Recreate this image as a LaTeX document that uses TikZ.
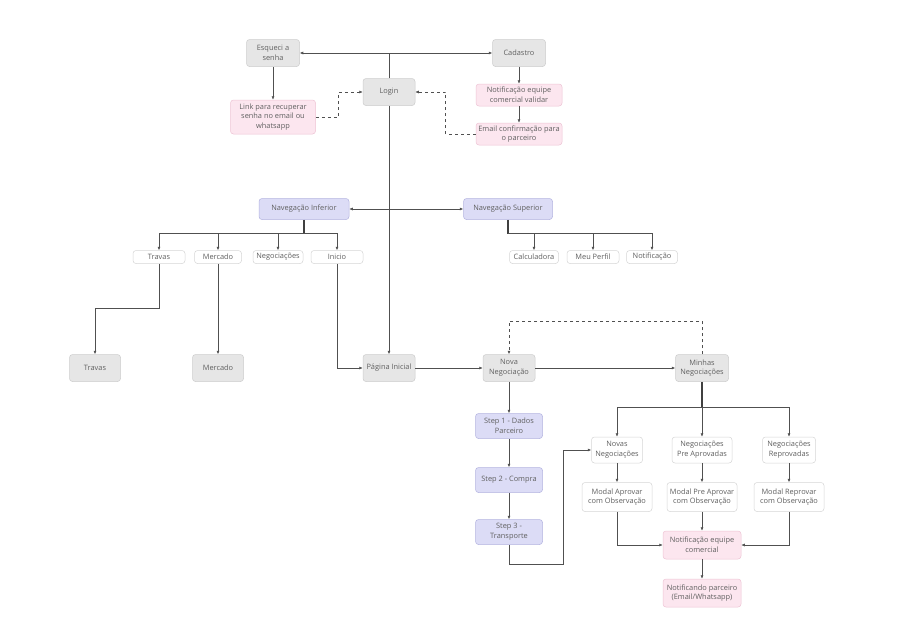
\documentclass[tikz,border=0pt]{standalone}
\usepackage{fontspec}
\setmainfont{Open Sans}
\usetikzlibrary{arrows.meta}

\definecolor{grayfill}{HTML}{E6E6E6}
\definecolor{grayline}{HTML}{CDCDCD}
\definecolor{pinkfill}{HTML}{FCE6EF}
\definecolor{pinkline}{HTML}{EEC4D5}
\definecolor{bluefill}{HTML}{DCDCF6}
\definecolor{blueline}{HTML}{B4B4E0}
\definecolor{plainline}{HTML}{D6D6D6}
\definecolor{txt}{HTML}{606060}
\definecolor{wire}{HTML}{505050}

\begin{document}
\begin{tikzpicture}[x=1pt,y=-1pt,
    bx/.style={rounded corners=3pt,align=center,inner sep=1pt,text=txt,line width=0.5pt,
        font=\fontsize{7.4}{9.8}\selectfont},
    greybox/.style={bx,draw=grayline,fill=grayfill,minimum width=53pt,minimum height=27pt},
    pinkbox/.style={bx,draw=pinkline,fill=pinkfill,minimum width=86pt,minimum height=22pt},
    bluebox/.style={bx,draw=blueline,fill=bluefill,minimum width=67pt,minimum height=25pt},
    plainbox/.style={bx,draw=plainline,fill=white,minimum height=13pt},
    arr/.style={draw=wire,line width=0.6pt,-{Latex[length=3.5pt,width=3pt]}},
    arrboth/.style={draw=wire,line width=0.6pt,{Latex[length=3.5pt,width=3pt]}-{Latex[length=3.5pt,width=3pt]}},
    dashlink/.style={arr,dashed},
    trunk/.style={draw=black!75,line width=1.2pt}]
    \path[use as bounding box,fill=white] (0,0) rectangle (901,643);

    \node[greybox] (esq) at (273,53) {Esqueci a\\senha};
    \node[greybox] (cad) at (519,53) {Cadastro};
    \node[greybox,minimum width=52pt] (login) at (389,92) {Login};
    \node[pinkbox,minimum width=85pt,minimum height=34pt] (link) at (273,117) {Link para recuperar\\senha no email ou\\whatsapp};
    \node[pinkbox] (notv) at (519,95) {Notificação equipe\\comercial validar};
    \node[pinkbox] (mail) at (519,134) {Email confirmação para\\o parceiro};

    \node[bluebox,minimum width=90pt,minimum height=21pt] (navi) at (304,209) {Navegação Inferior};
    \node[bluebox,minimum width=89pt,minimum height=21pt] (navs) at (508,209) {Navegação Superior};

    \node[plainbox,minimum width=52pt] (trv) at (159,257) {Travas};
    \node[plainbox,minimum width=47pt] (mer) at (218,257) {Mercado};
    \node[plainbox,minimum width=50pt] (neg) at (278,257) {Negociações};
    \node[plainbox,minimum width=52pt] (ini) at (337,257) {Inicio};
    \node[plainbox,minimum width=49pt] (calc) at (534,257) {Calculadora};
    \node[plainbox,minimum width=52pt] (perf) at (593,257) {Meu Perfil};
    \node[plainbox,minimum width=51pt] (notif) at (652,257) {Notificação};

    \node[greybox,minimum width=51pt] (trvb) at (95,368) {Travas};
    \node[greybox,minimum width=51pt] (merb) at (218,368) {Mercado};
    \node[greybox,minimum width=52pt] (pag) at (389,368) {Página Inicial};
    \node[greybox,minimum width=52pt] (nova) at (509,368) {Nova\\Negociação};
    \node[greybox,minimum width=53pt] (minhas) at (702,368) {Minhas\\Negociações};

    \node[bluebox] (s1) at (509,426) {Step 1 - Dados\\Parceiro};
    \node[bluebox] (s2) at (509,480) {Step 2 - Compra};
    \node[bluebox] (s3) at (509,532) {Step 3 -\\Transporte};

    \node[plainbox,minimum width=51pt,minimum height=26pt] (nov) at (617,450) {Novas\\Negociações};
    \node[plainbox,minimum width=60pt,minimum height=26pt] (pre) at (702,450) {Negociações\\Pre Aprovadas};
    \node[plainbox,minimum width=53pt,minimum height=26pt] (rep) at (789,450) {Negociações\\Reprovadas};
    \node[plainbox,minimum width=70pt,minimum height=29pt] (mapr) at (617,497) {Modal Aprovar\\com Observação};
    \node[plainbox,minimum width=70pt,minimum height=29pt] (mpre) at (702,497) {Modal Pre Aprovar\\com Observação};
    \node[plainbox,minimum width=70pt,minimum height=29pt] (mrep) at (789,497) {Modal Reprovar\\com Observação};
    \node[pinkbox,minimum width=78pt,minimum height=28pt] (neq) at (702,545) {Notificação equipe\\comercial};
    \node[pinkbox,minimum width=78pt,minimum height=28pt] (npar) at (702,593) {Notificando parceiro\\(Email/Whatsapp)};

    \coordinate (top) at (389,53);
    \draw[wire,line width=0.6pt] (login) -- (top);
    \draw[arr] (top) -- (esq);
    \draw[arr] (top) -- (cad);
    \draw[arr] (esq) -- (link);
    \draw[dashlink] (link.east) -- ++(23,0) |- (login.west);
    \draw[arr] (cad) -- (notv);
    \draw[arr] (notv) -- (mail);
    \draw[dashlink] (mail.west) -- ++(-30,0) |- (login.east);
    \draw[arr] (login) -- (pag);
    \draw[arrboth] (navi) -- (navs);

    \draw[trunk] (navi.south) -- ++(0,14) coordinate (bi);
    \foreach \n in {trv,mer,neg,ini}
        \draw[arr] (bi) -| (\n.north);
    \draw[trunk] (navs.south) -- ++(0,14) coordinate (bs);
    \foreach \n in {calc,perf,notif}
        \draw[arr] (bs) -| (\n.north);

    \draw[arr] (trv.south) -- ++(0,45) -| (trvb.north);
    \draw[arr] (mer) -- (merb);
    \draw[arr] (ini.south) |- (pag.west);
    \draw[arr] (pag) -- (nova);
    \draw[arr] (nova) -- (minhas);
    \draw[dashlink] (minhas.north) -- ++(0,-33) -| (nova.north);

    \draw[arr] (nova) -- (s1);
    \draw[arr] (s1) -- (s2);
    \draw[arr] (s2) -- (s3);
    \draw[arr] (s3.south) -- ++(0,20) -- ++(54,0) |- (nov.west);

    \draw[trunk] (minhas.south) -- ++(0,26) coordinate (bm);
    \foreach \n in {nov,pre,rep}
        \draw[arr] (bm) -| (\n.north);
    \draw[arr] (nov) -- (mapr);
    \draw[arr] (pre) -- (mpre);
    \draw[arr] (rep) -- (mrep);
    \draw[arr] (mapr.south) |- (neq.west);
    \draw[arr] (mrep.south) |- (neq.east);
    \draw[arr] (mpre) -- (neq);
    \draw[arr] (neq) -- (npar);
\end{tikzpicture}
\end{document}
